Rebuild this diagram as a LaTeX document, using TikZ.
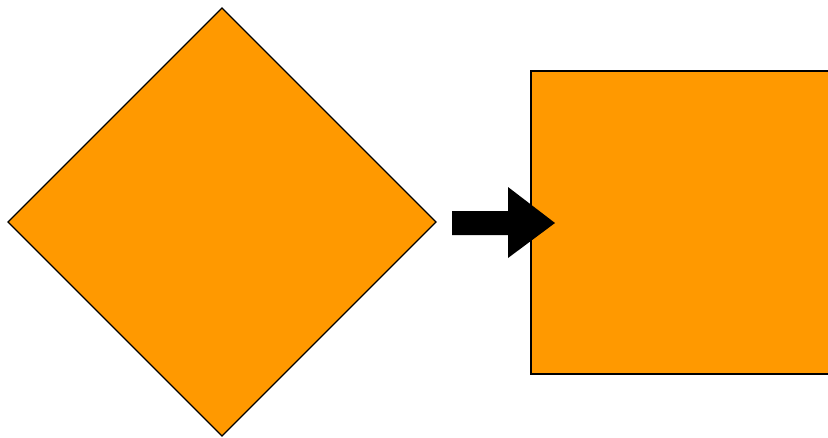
\documentclass[tikz,border=0pt]{standalone}
\usepackage{xcolor}
\usepackage{tikz}
\usetikzlibrary{shapes.geometric, positioning}

\definecolor{shapeorange}{RGB}{255,153,0}

\begin{document}
\begin{tikzpicture}[
    x=1pt, y=-1pt,
    shapebox/.style={draw=black, line width=1.2pt, fill=shapeorange,
                inner sep=0pt, outer sep=0pt},
    rhombus/.style={shapebox, diamond, aspect=1,
                minimum width=428pt, minimum height=428pt},
    square/.style={shapebox, rectangle,
                minimum width=330pt, minimum height=303pt},
    blockarrow/.style={fill=black, draw=none}
]
\clip (0,0) rectangle (828,437);

\node[rhombus] (before) at (222,222) {};
\node[square] (after) at (696,222.5) {};

% block arrow between the two shapes
\coordinate (tip) at (555,223);
\fill[blockarrow] (452,211) -- (508,211) -- (508,187) -- (tip)
    -- (508,258) -- (508,235) -- (452,235) -- cycle;

\end{tikzpicture}
\end{document}
